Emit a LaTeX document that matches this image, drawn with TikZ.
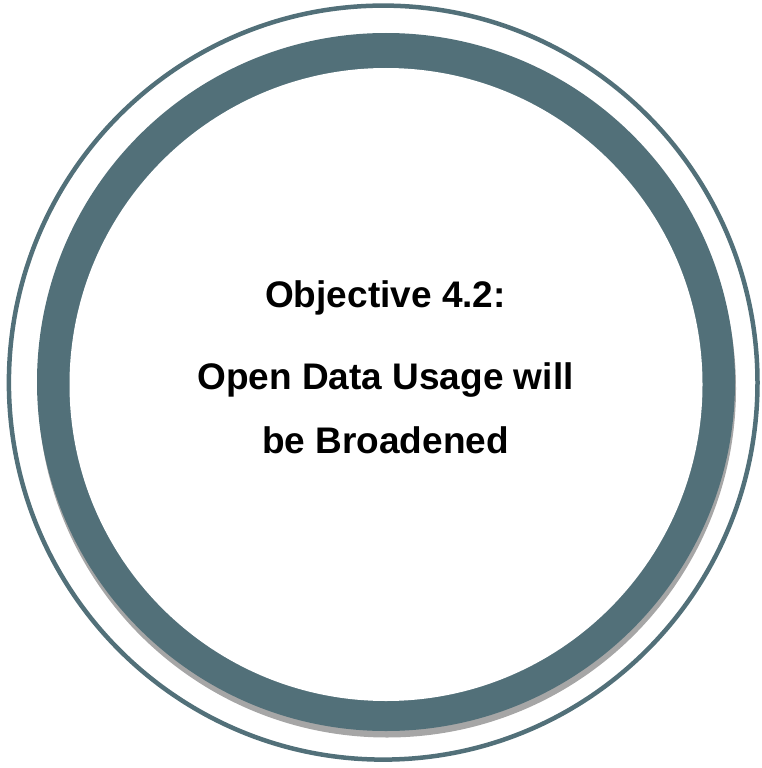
\documentclass[tikz,border=0pt]{standalone}
\usepackage{fontspec}
\setmainfont{Liberation Sans}
\definecolor{ringteal}{RGB}{82,112,121}
\definecolor{ringshade}{RGB}{166,166,166}
\begin{document}
\begin{tikzpicture}[x=1pt,y=-1pt,
  label/.style={font=\bfseries\fontsize{37}{44}\selectfont, anchor=base, inner sep=0pt, text=black}]
\useasboundingbox (0,0) rectangle (762,768);
% thin outer ring
\draw[ringteal, line width=4.5pt] (383.2,382.6) ellipse [x radius=374.3, y radius=377];
% soft drop shadow under the thick ring
\fill[ringshade] (387,388.5) circle (349);
% thick ring
\fill[ringteal] (386,382) circle (349);
\fill[white] (386,384.5) circle (316.5);
% title text
\node[label] (t1) at (385.5,307.5) {Objective 4.2:};
\node[label] (t2) at (385.5,389) {Open Data Usage will};
\node[label] (t3) at (385.5,453) {be Broadened};
\end{tikzpicture}
\end{document}
